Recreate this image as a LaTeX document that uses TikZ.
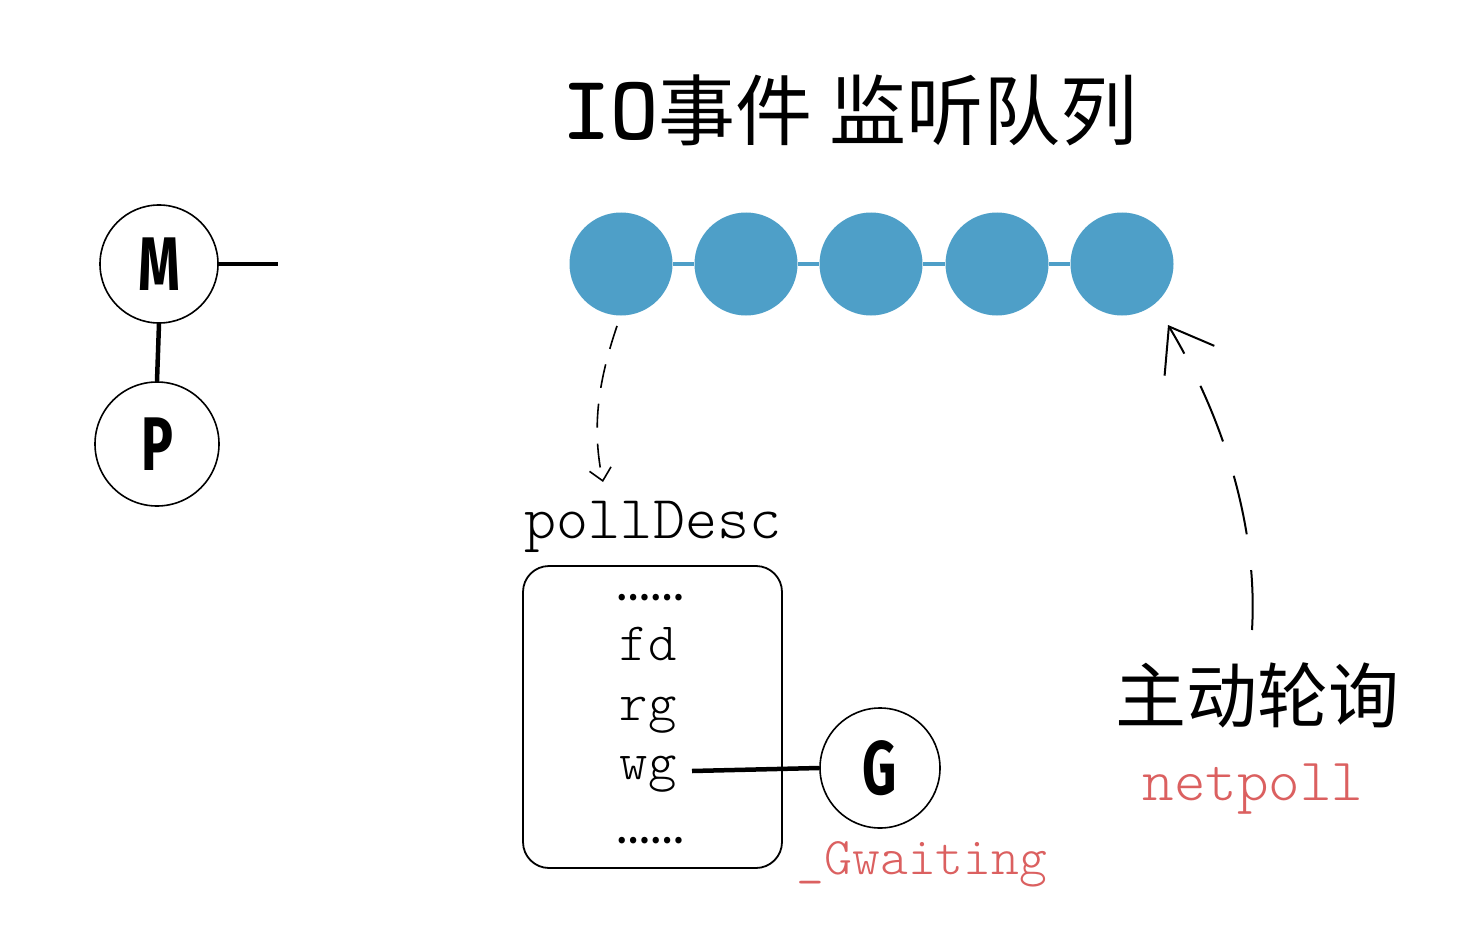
\documentclass[tikz,border=0pt]{standalone}
\usepackage{fontspec}
\setmonofont{Latin Modern Mono Light}
\newfontfamily\cjk{Noto Sans CJK SC}
\newfontfamily\lett{Fira Sans}
\usetikzlibrary{arrows.meta}
\definecolor{qblue}{HTML}{4E9FC8}
\definecolor{qred}{HTML}{DB6060}
\tikzset{
  qc/.style={circle, fill=qblue, draw=none, minimum size=103pt, inner sep=0pt},
  qline/.style={draw=qblue, line width=4pt},
  hc/.style={circle, draw=black, line width=1.6pt, inner sep=0pt},
  thickline/.style={line width=4.5pt, draw=black},
  monotext/.style={font=\ttfamily\fontsize{54}{58}\selectfont, inner sep=0pt, anchor=base},
  redtext/.style={text=qred},
  letter/.style={font=\lett\bfseries\fontsize{76}{80}\selectfont},
  dasha/.style={draw=black, line width=1.6pt, dash pattern=on 24pt off 16pt, -{Straight Barb[length=12pt,width=22pt,line width=1.6pt]}},
  dashb/.style={draw=black, line width=2pt, dash pattern=on 60pt off 36pt, -{Straight Barb[length=40pt,width=58pt,line width=2pt]}}
}
\begin{document}
\begin{tikzpicture}[x=1pt,y=-1pt]
\useasboundingbox[fill=white] (0,0) rectangle (1475,936);
% title
\node[inner sep=0pt, anchor=base] (title) at (850,140) {{\ttfamily\bfseries\fontsize{92}{96}\selectfont IO}{\cjk\fontsize{77}{82}\selectfont 事件 监听队列}};
% M and P
\node[hc, minimum size=118pt, letter] (m) at (159,264) {\scalebox{0.7}[1]{M}};
\node[hc, minimum size=124pt, letter] (p) at (157,444) {\scalebox{0.7}[1]{P}};
\coordinate (mend) at (278,264);
\draw[thickline] (m.east) -- (mend);
\draw[thickline] (m.south) -- (p.north);
% queue
\node[qc] (q1) at (621,264) {};
\node[qc] (q2) at (746,264) {};
\node[qc] (q3) at (871,264) {};
\node[qc] (q4) at (997,264) {};
\node[qc] (q5) at (1122,264) {};
\draw[qline] (q1) -- (q2);
\draw[qline] (q2) -- (q3);
\draw[qline] (q3) -- (q4);
\draw[qline] (q4) -- (q5);
% pollDesc
\node[monotext, font=\ttfamily\fontsize{61}{64}\selectfont] (pd) at (653,538) {pollDesc};
\draw[line width=1.8pt, rounded corners=26pt] (523,566) rectangle (782,868);
\node[inner sep=0pt, anchor=base] (d1) at (650,600) {\cjk\fontsize{30}{32}\selectfont\bfseries ……};
\node[monotext] (fd) at (648,660) {fd};
\node[monotext] (rg) at (648,720) {rg};
\node[monotext] (wg) at (648,779) {wg};
\node[inner sep=0pt, anchor=base] (d2) at (650,843) {\cjk\fontsize{30}{32}\selectfont\bfseries ……};
% G
\node[hc, minimum size=120pt, letter] (g) at (880,768) {\scalebox{0.7}[1]{G}};
\coordinate (wgs) at (692,771);
\draw[thickline] (wgs) -- (g.west);
\node[monotext, redtext, font=\ttfamily\fontsize{53}{56}\selectfont] (gw) at (922,874) {\_Gwaiting};
% right side
\node[inner sep=0pt, anchor=base] (zd) at (1257,722) {\cjk\fontsize{71}{76}\selectfont 主动轮询};
\node[monotext, redtext, font=\ttfamily\fontsize{60}{64}\selectfont] (np) at (1253,800) {netpoll};
% arrows
\coordinate (a1s) at (617,326);
\coordinate (a1e) at (603,482);
\draw[dasha] (a1s) .. controls (597,385) and (592,430) .. (a1e);
\coordinate (a2s) at (1252,630);
\coordinate (a2e) at (1168,325);
\draw[dashb] (a2s) .. controls (1258,530) and (1225,420) .. (a2e);
\end{tikzpicture}
\end{document}
